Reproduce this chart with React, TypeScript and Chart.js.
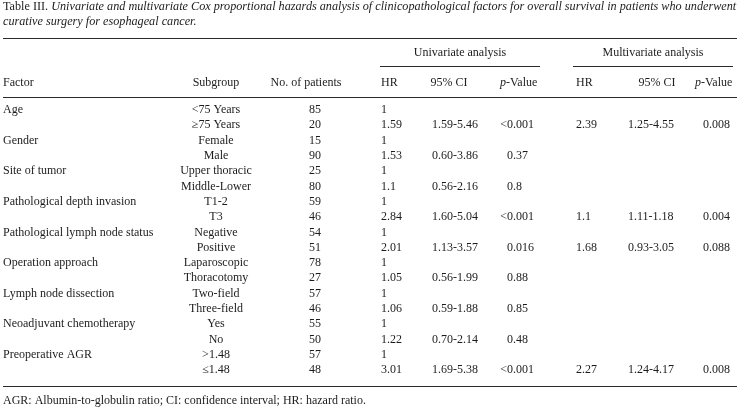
import React, { useEffect, useRef } from "react";
import { Chart, registerables } from "chart.js";

Chart.register(...registerables);

// ---------- DATA ----------
const titleLead = "Table III.";
const titleLine1 =
  "Univariate and multivariate Cox proportional hazards analysis of clinicopathological factors for overall survival in patients who underwent";
const titleLine2 = "curative surgery for esophageal cancer.";
const groupHeaders = ["Univariate analysis", "Multivariate analysis"];
const columnHeaders = ["Factor", "Subgroup", "No. of patients", "HR", "95% CI", "p-Value", "HR", "95% CI", "p-Value"];
const factors = [
  "Age",
  "Gender",
  "Site of tumor",
  "Pathological depth invasion",
  "Pathological lymph node status",
  "Operation approach",
  "Lymph node dissection",
  "Neoadjuvant chemotherapy",
  "Preoperative AGR",
];
const subgroups = [
  "<75 Years", "≥75 Years",
  "Female", "Male",
  "Upper thoracic", "Middle-Lower",
  "T1-2", "T3",
  "Negative", "Positive",
  "Laparoscopic", "Thoracotomy",
  "Two-field", "Three-field",
  "Yes", "No",
  ">1.48", "≤1.48",
];
const patients = [85, 20, 15, 90, 25, 80, 59, 46, 54, 51, 78, 27, 57, 46, 55, 50, 57, 48];
const uniHR = ["1", "1.59", "1", "1.53", "1", "1.1", "1", "2.84", "1", "2.01", "1", "1.05", "1", "1.06", "1", "1.22", "1", "3.01"];
const uniCI = ["", "1.59-5.46", "", "0.60-3.86", "", "0.56-2.16", "", "1.60-5.04", "", "1.13-3.57", "", "0.56-1.99", "", "0.59-1.88", "", "0.70-2.14", "", "1.69-5.38"];
const uniP = ["", "<0.001", "", "0.37", "", "0.8", "", "<0.001", "", "0.016", "", "0.88", "", "0.85", "", "0.48", "", "<0.001"];
const multiHR = ["", "2.39", "", "", "", "", "", "1.1", "", "1.68", "", "", "", "", "", "", "", "2.27"];
const multiCI = ["", "1.25-4.55", "", "", "", "", "", "1.11-1.18", "", "0.93-3.05", "", "", "", "", "", "", "", "1.24-4.17"];
const multiP = ["", "0.008", "", "", "", "", "", "0.004", "", "0.088", "", "", "", "", "", "", "", "0.008"];
const footnote = "AGR: Albumin-to-globulin ratio; CI: confidence interval; HR: hazard ratio.";

// ---------- LAYOUT ----------
const W = 739;
const H = 413;
const FAMILY = '"Liberation Serif", "Times New Roman", serif';
const FS = 12;
const INK = "#1c1c1c";
const RULE = "#2a2a2a";

const LEFT = 3;
const RIGHT = 737;
const TITLE_Y1 = 7;
const TITLE_Y2 = 22;
const TOP_RULE = 38.5;
const GROUP_Y = 53;
const GROUP_RULE = 66.5;
const HEAD_Y = 83;
const HEAD_RULE = 97.5;
const ROW_Y0 = 110;
const ROW_DY = 15.3;
const BOTTOM_RULE = 386.5;
const FOOT_Y = 401;

const COL = {
  factor: LEFT,
  subgroup: 216,
  patientsHead: 306,
  patients: 315,
  uHR: 381,
  uCIHead: 449,
  uCI: 432,
  uPHead: 500,
  uP: 507,
  mHR: 576,
  mCIHead: 657,
  mCI: 628,
  mPHead: 695,
  mP: 703,
};
const GROUP_SPANS = [
  [380, 540],
  [573, 733],
];

const tablePlugin = {
  id: "tableDraw",
  beforeDraw(chart: any) {
    const ctx = chart.ctx;
    ctx.save();
    ctx.fillStyle = "#ffffff";
    ctx.fillRect(0, 0, chart.width, chart.height);
    ctx.restore();
  },
  afterDraw(chart: any) {
    const ctx: CanvasRenderingContext2D = chart.ctx;
    const xs = chart.scales.x;
    const ys = chart.scales.y;
    const X = (v: number) => xs.getPixelForValue(v);
    const Y = (v: number) => ys.getPixelForValue(v);
    const up = (s = FS) => `${s}px ${FAMILY}`;
    const it = (s = FS) => `italic ${s}px ${FAMILY}`;

    ctx.save();
    ctx.textBaseline = "middle";
    ctx.fillStyle = INK;

    const text = (t: string, x: number, y: number, align: CanvasTextAlign = "left", font = up()) => {
      ctx.font = font;
      ctx.textAlign = align;
      ctx.fillText(t, X(x), Y(y));
    };
    const hline = (x1: number, x2: number, y: number, w = 1) => {
      ctx.save();
      ctx.strokeStyle = RULE;
      ctx.lineWidth = w;
      ctx.beginPath();
      ctx.moveTo(X(x1), Y(y));
      ctx.lineTo(X(x2), Y(y));
      ctx.stroke();
      ctx.restore();
    };

    // Title: fit line 1 to the table width
    ctx.font = up();
    const leadW = ctx.measureText(titleLead + " ").width;
    ctx.font = it();
    const restW = ctx.measureText(titleLine1).width;
    const ts = (FS * (RIGHT - LEFT)) / (leadW + restW);
    ctx.font = up(ts);
    const leadW2 = ctx.measureText(titleLead + " ").width;
    text(titleLead, LEFT, TITLE_Y1, "left", up(ts));
    text(titleLine1, LEFT + leadW2, TITLE_Y1, "left", it(ts));
    text(titleLine2, LEFT, TITLE_Y2, "left", it(ts));

    hline(LEFT, RIGHT, TOP_RULE, 1.2);

    // group headers
    GROUP_SPANS.forEach((sp, i) => {
      text(groupHeaders[i], (sp[0] + sp[1]) / 2, GROUP_Y, "center");
      hline(sp[0], sp[1], GROUP_RULE, 1.2);
    });

    // column headers
    const pValue = (x: number) => {
      ctx.font = it();
      const pw = ctx.measureText("p").width;
      text("p", x, HEAD_Y, "left", it());
      text(columnHeaders[5].slice(1), x + pw, HEAD_Y, "left", up());
    };
    text(columnHeaders[0], COL.factor, HEAD_Y);
    text(columnHeaders[1], COL.subgroup, HEAD_Y, "center");
    text(columnHeaders[2], COL.patientsHead, HEAD_Y, "center");
    text(columnHeaders[3], COL.uHR, HEAD_Y);
    text(columnHeaders[4], COL.uCIHead, HEAD_Y, "center");
    pValue(COL.uPHead);
    text(columnHeaders[6], COL.mHR, HEAD_Y);
    text(columnHeaders[7], COL.mCIHead, HEAD_Y, "center");
    pValue(COL.mPHead);

    hline(LEFT, RIGHT, HEAD_RULE, 1.2);

    const pText = (t: string, x: number, y: number) => {
      if (!t) return;
      ctx.font = up();
      const lead = t.startsWith("<") ? ctx.measureText("<").width : 0;
      text(t, x - lead, y);
    };

    subgroups.forEach((sg, i) => {
      const y = ROW_Y0 + i * ROW_DY;
      if (i % 2 === 0) text(factors[i / 2], COL.factor, y);
      text(sg, COL.subgroup, y, "center");
      text(String(patients[i]), COL.patients, y, "center");
      if (uniHR[i]) text(uniHR[i], COL.uHR, y);
      if (uniCI[i]) text(uniCI[i], COL.uCI, y);
      pText(uniP[i], COL.uP, y);
      if (multiHR[i]) text(multiHR[i], COL.mHR, y);
      if (multiCI[i]) text(multiCI[i], COL.mCI, y);
      pText(multiP[i], COL.mP, y);
    });

    hline(LEFT, RIGHT, BOTTOM_RULE, 1.2);
    text(footnote, LEFT, FOOT_Y);

    ctx.restore();
  },
};

export default function App() {
  const ref = useRef<HTMLCanvasElement | null>(null);
  useEffect(() => {
    if (!ref.current) return;
    const chart = new Chart(ref.current, {
      type: "scatter",
      data: { datasets: [] },
      options: {
        animation: false,
        responsive: false,
        devicePixelRatio: 1,
        layout: { padding: 0 },
        plugins: { legend: { display: false }, tooltip: { enabled: false }, title: { display: false } },
        scales: {
          x: { type: "linear", min: 0, max: W, display: false },
          y: { type: "linear", min: 0, max: H, reverse: true, display: false },
        },
      },
      plugins: [tablePlugin],
    });
    return () => chart.destroy();
  }, []);
  return (
    <div style={{ position: "absolute", left: 0, top: 0, width: W, height: H, background: "#fff" }}>
      <canvas ref={ref} width={W} height={H} style={{ display: "block", width: W, height: H }} />
    </div>
  );
}
